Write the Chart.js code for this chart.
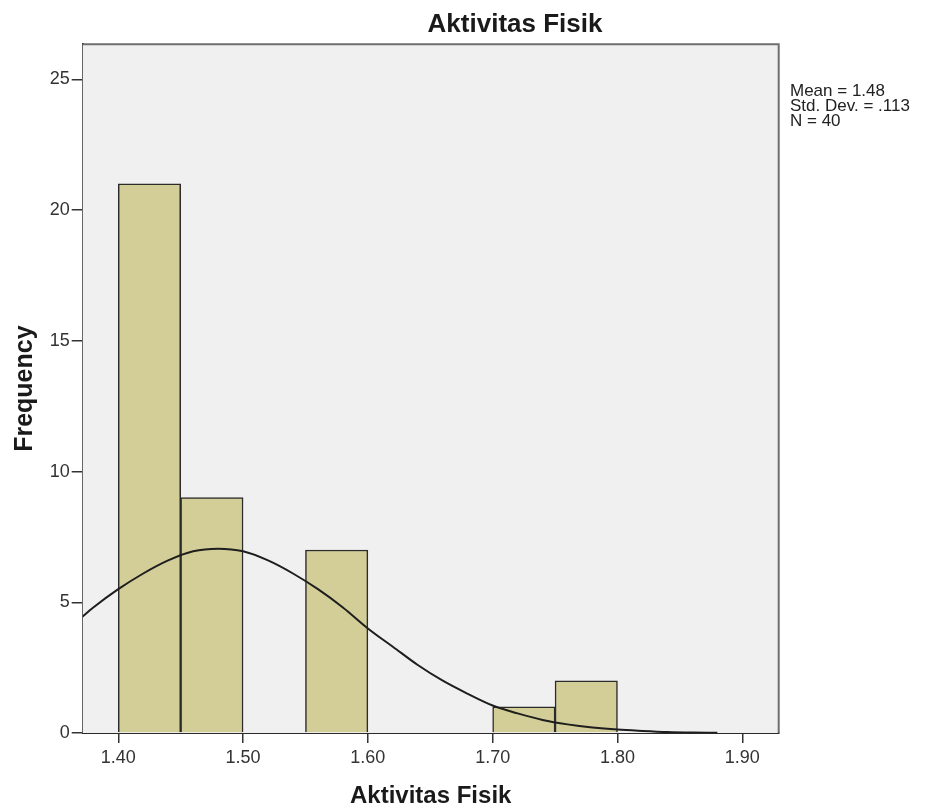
<!DOCTYPE html>
<html>
<head>
<meta charset="utf-8">
<script src="https://cdn.jsdelivr.net/npm/chart.js@4.4.1/dist/chart.umd.min.js"></script>
<style>
  body { margin: 0; background: #ffffff; }
  #wrap { width: 926px; height: 811px; position: relative; }
</style>
</head>
<body>
<div id="wrap"><canvas id="chart-1"></canvas></div>
<script>
// histogram bins (start of each 0.05 bin) and their counts
const binStart = [1.40, 1.45, 1.50, 1.55, 1.60, 1.65, 1.70, 1.75];
const binCount = [21, 9, 0, 7, 0, 0, 1, 2];
const binWidth = 0.05;

// normal curve
const curveX = [1.37, 1.38, 1.40, 1.42, 1.44, 1.46, 1.48, 1.50, 1.52, 1.54, 1.56, 1.58, 1.60, 1.62,
                1.64, 1.66, 1.68, 1.70, 1.72, 1.74, 1.76, 1.78, 1.80, 1.82, 1.84, 1.86, 1.88];
const curveY = [4.4, 4.8, 5.5, 6.1, 6.6, 6.95, 7.05, 6.95, 6.6, 6.1, 5.5, 4.8, 4.0, 3.3,
                2.6, 2.0, 1.5, 1.05, 0.75, 0.5, 0.33, 0.21, 0.13, 0.08, 0.04, 0.02, 0.01];

const xTicks = [1.40, 1.50, 1.60, 1.70, 1.80, 1.90];
const yTicks = [0, 5, 10, 15, 20, 25];
const statLines = ['Mean = 1.48', 'Std. Dev. = .113', 'N = 40'];
const chartTitle = 'Aktivitas Fisik';

const FONT = '"Liberation Sans", Arial, sans-serif';

const spssFrame = {
    id: 'spssFrame',
    beforeDatasetsDraw(chart) {
        const {ctx, chartArea: a} = chart;
        ctx.save();
        ctx.fillStyle = '#f0f0f0';
        ctx.fillRect(a.left, a.top, a.right - a.left, a.bottom - a.top);
        ctx.restore();
    },
    afterDraw(chart) {
        const {ctx, chartArea: a} = chart;
        ctx.save();
        // top & right frame
        ctx.strokeStyle = '#6e6e6e';
        ctx.lineWidth = 2;
        ctx.beginPath();
        ctx.moveTo(a.left, a.top);
        ctx.lineTo(a.right, a.top);
        ctx.lineTo(a.right, a.bottom);
        ctx.stroke();
        // title
        ctx.fillStyle = '#1a1a1a';
        ctx.font = 'bold 26px ' + FONT;
        ctx.textAlign = 'center';
        ctx.textBaseline = 'alphabetic';
        ctx.fillText(chartTitle, 515, 32);
        // stats box
        ctx.font = '17px ' + FONT;
        ctx.textAlign = 'left';
        ctx.fillStyle = '#222';
        statLines.forEach((t, i) => ctx.fillText(t, 790, 96 + i * 15));
        ctx.restore();
    }
};

const ctx1 = document.getElementById('chart-1');
const histChart = new Chart(ctx1, {
    type: 'bar',
    data: {
        datasets: [{
            type: 'line',
            label: 'Normal',
            data: curveX.map((x, i) => ({x: x, y: curveY[i]})),
            borderColor: '#1e1e1e',
            borderWidth: 2,
            pointRadius: 0,
            cubicInterpolationMode: 'monotone',
            fill: false,
            order: 0
        }, {
            label: 'Frequency',
            data: binStart.map((s, i) => ({x: s + binWidth / 2, y: binCount[i]})),
            backgroundColor: '#d3ce97',
            borderColor: '#2b2b2b',
            borderWidth: 1.5,
            barPercentage: 1,
            categoryPercentage: 1,
            order: 1
        }]
    },
    options: {
        responsive: true,
        maintainAspectRatio: false,
        animation: false,
        layout: {
            padding: {left: 0, top: 44.3, right: 147.3, bottom: 0}
        },
        scales: {
            x: {
                type: 'linear',
                offset: false,
                min: 1.3715,
                max: 1.9292,
                afterBuildTicks: (scale) => { scale.ticks = xTicks.map(v => ({value: v})); },
                afterFit: (scale) => { scale.height = 78; },
                grid: {
                    offset: false,
                    drawOnChartArea: false,
                    drawTicks: true,
                    tickLength: 10,
                    tickColor: '#333',
                    lineWidth: 1.5
                },
                border: { display: true, color: '#2a2a2a', width: 2 },
                ticks: {
                    color: '#333',
                    font: { family: FONT, size: 18 },
                    padding: 4,
                    maxRotation: 0,
                    callback: (v) => Number(v).toFixed(2)
                },
                title: {
                    display: true,
                    text: 'Aktivitas Fisik',
                    color: '#1a1a1a',
                    font: { family: FONT, size: 24, weight: 'bold' },
                    padding: { top: 0, bottom: 0 }
                }
            },
            y: {
                min: 0,
                max: 26.34,
                afterBuildTicks: (scale) => { scale.ticks = yTicks.map(v => ({value: v})); },
                afterFit: (scale) => { scale.width = 82.7; },
                grid: {
                    drawOnChartArea: false,
                    drawTicks: true,
                    tickLength: 11,
                    tickColor: '#333',
                    lineWidth: 1.5
                },
                border: { display: true, color: '#2a2a2a', width: 2 },
                ticks: {
                    color: '#333',
                    font: { family: FONT, size: 18 },
                    padding: 2
                },
                title: {
                    display: true,
                    text: 'Frequency',
                    color: '#1a1a1a',
                    font: { family: FONT, size: 25, weight: 'bold' },
                    padding: { top: 10, bottom: 0 }
                }
            }
        },
        plugins: {
            legend: { display: false },
            tooltip: { enabled: false }
        }
    },
    plugins: [spssFrame]
});
</script>
</body>
</html>
